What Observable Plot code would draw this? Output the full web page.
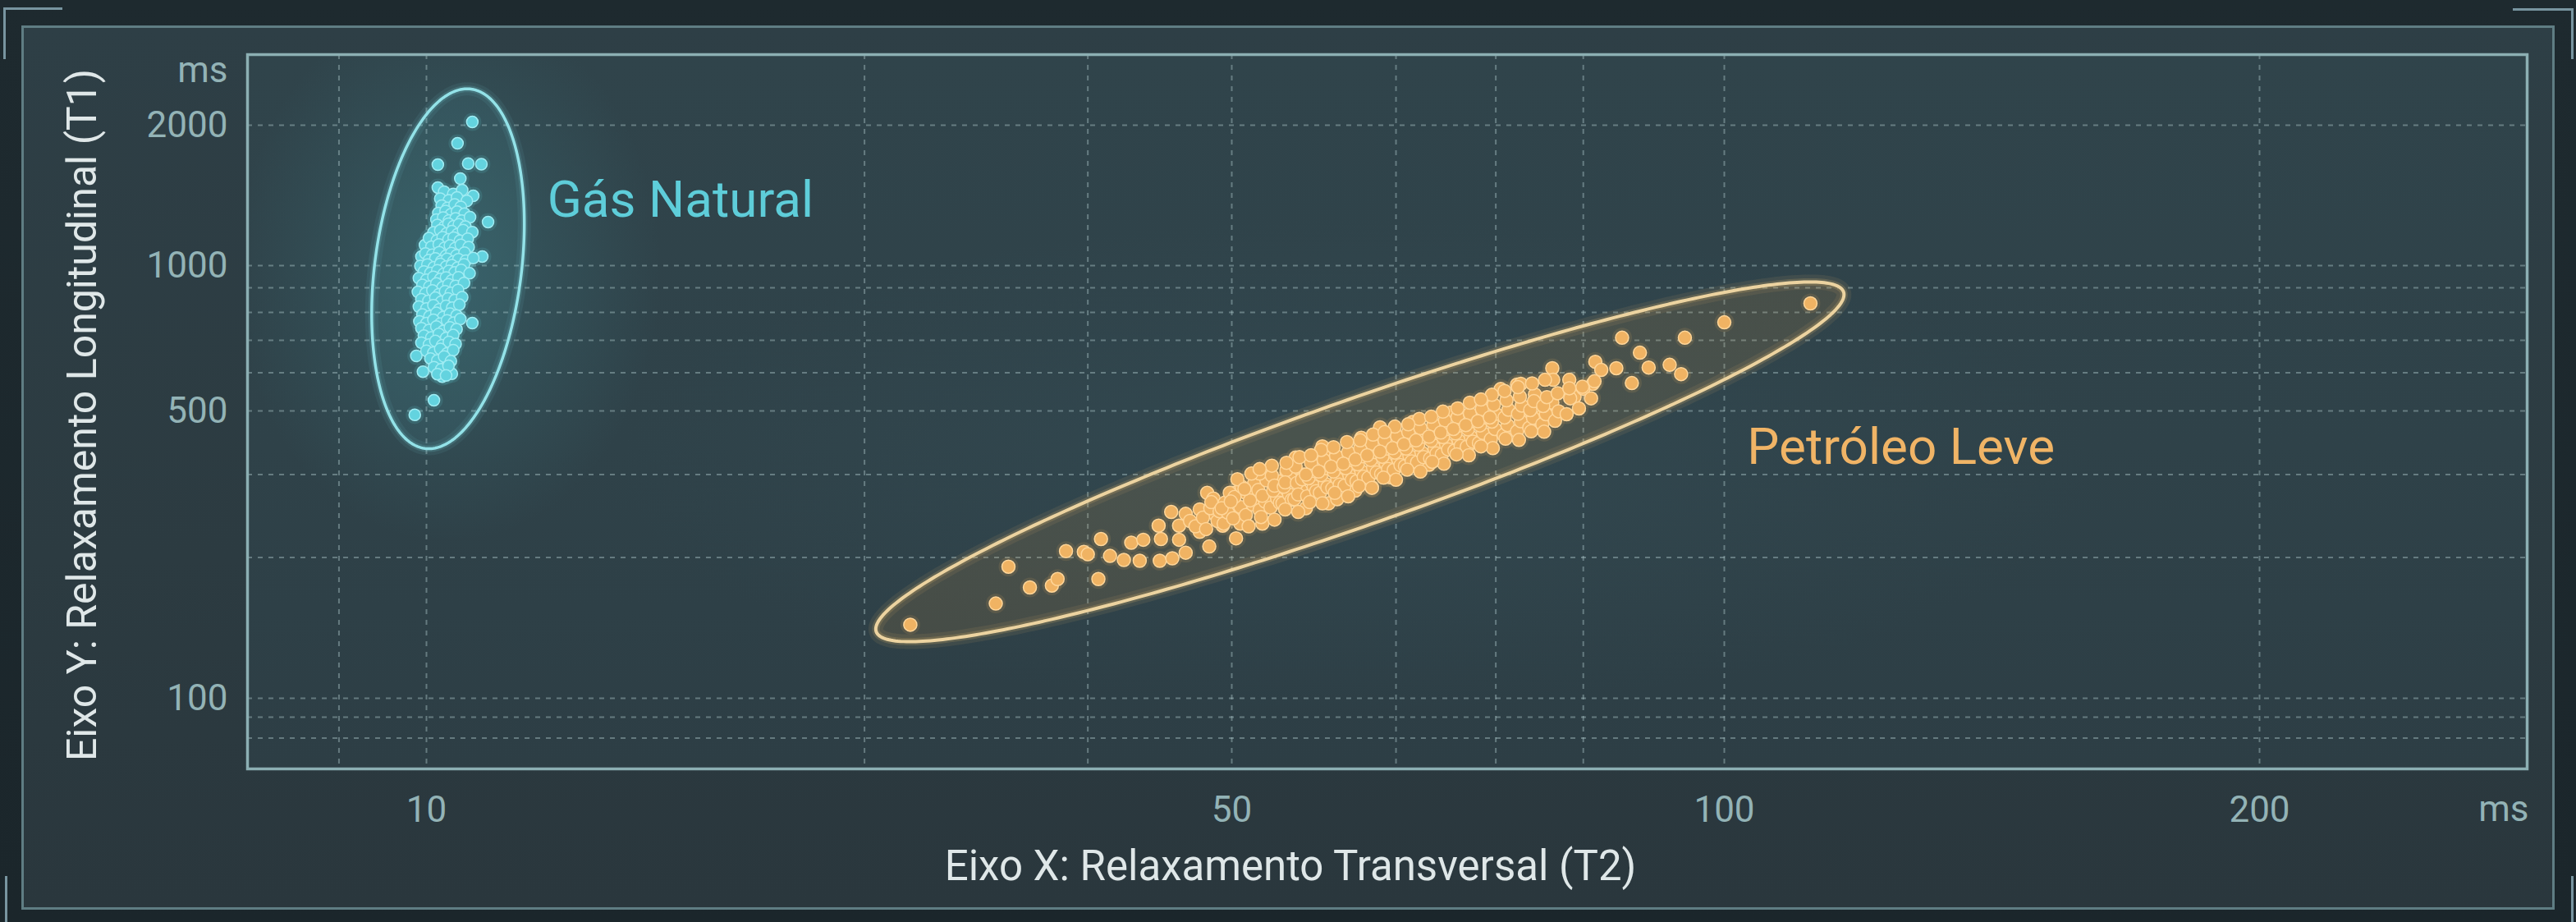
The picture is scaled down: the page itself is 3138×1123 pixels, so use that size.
<!DOCTYPE html>
<html>
<head>
<meta charset="utf-8">
<script src="https://cdn.jsdelivr.net/npm/d3@7"></script>
<script src="https://cdn.jsdelivr.net/npm/@observablehq/plot@0.6"></script>
<style>
  html, body { margin: 0; padding: 0; background: #1c272c; }
  #wrap { position: relative; width: 3138px; height: 1123px; overflow: hidden;
    background: linear-gradient(180deg, #1e2a2f 0%, #1b262b 100%); font-family: Roboto, sans-serif; }
  #panel { position: absolute; left: 26px; top: 31px; width: 3086px; height: 1077px; box-sizing: border-box;
    border: 3px solid #5f7d83;
    background: linear-gradient(180deg, #2e3f46 0%, #2c3b41 60%, #2a373d 100%); }
  #plotbg { position: absolute; left: 301px; top: 66px; width: 2777px; height: 870px;
    background:
      radial-gradient(ellipse 260px 330px at 245px 265px, rgba(70,150,160,0.28), rgba(70,150,160,0) 100%),
      radial-gradient(ellipse 900px 300px at 1350px 500px, rgba(60,90,100,0.25), rgba(60,90,100,0) 100%),
      linear-gradient(180deg, #30444b 0%, #2f4249 55%, #2d3e45 100%); }
  .br { position: absolute; background: #7895a0; }
  #chart { position: absolute; left: 0; top: 0; }
</style>
</head>
<body>
<div id="wrap">
  <div id="panel"></div>
  <div id="plotbg"></div>
  <div class="br" style="left:4px;top:9px;width:72px;height:3px"></div>
  <div class="br" style="left:4px;top:9px;width:3px;height:63px"></div>
  <div class="br" style="left:3061px;top:10px;width:74px;height:3px"></div>
  <div class="br" style="left:3132px;top:10px;width:3px;height:62px"></div>
  <div class="br" style="left:6px;top:1067px;width:3px;height:56px"></div>
  <div class="br" style="left:3132px;top:1067px;width:3px;height:56px"></div>
  <div id="chart"></div>
</div>
<script>
// ---- data ----
const xTicks = [10, 50, 100, 200];
const yTicks = [100, 500, 1000, 2000];
const xGrid = [8.4, 10, 24, 37.5, 50, 63, 72.5, 82, 100, 200];
const yGrid = [2000, 1000, 900, 800, 700, 600, 500, 350, 220, 100, 90, 80];
// axis breakpoints as drawn on the (non-uniform) reference axes
const xDomain = [7.0, 10, 50, 100, 200, 282.9];
const yDomain = [67.3, 100, 500, 1000, 2000, 2835];

// Gás Natural: [T2 ms, T1 ms]
const gasPoints = [
  [10.96,2032],[10.64,1829],[10.23,1646],[10.87,1655],[11.16,1650],[10.70,1537],[10.23,1470],[10.98,1411],
  [10.32,1372],[11.31,1240],[11.18,1046],[9.97,1107],[9.90,1046],[10.96,760],[9.80,650],[9.93,603],
  [10.07,655],[10.32,589],[10.52,597],[10.15,526],[9.77,489],
  [10.36,1440],[10.55,1425],[10.74,1452],
  [10.28,1392],[10.46,1380],[10.63,1400],[10.84,1376],
  [10.31,1345],[10.43,1330],[10.58,1352],[10.71,1336],
  [10.24,1296],[10.39,1310],[10.50,1288],[10.63,1305],[10.79,1292],
  [10.20,1255],[10.34,1268],[10.46,1250],[10.60,1262],[10.73,1248],[10.91,1270],
  [10.22,1222],[10.36,1210],[10.45,1230],[10.56,1215],[10.67,1226],[10.81,1212],
  [10.14,1178],[10.28,1190],[10.41,1172],[10.52,1185],[10.64,1168],[10.76,1192],[10.96,1180],
  [10.05,1145],[10.21,1132],[10.33,1150],[10.45,1138],[10.56,1148],[10.69,1130],[10.86,1142],
  [10.10,1098],[10.25,1110],[10.37,1092],[10.48,1104],[10.59,1090],[10.71,1108],[10.88,1096],
  [9.98,1062],[10.12,1055],[10.26,1068],[10.40,1050],[10.51,1064],[10.62,1052],[10.79,1066],
  [10.05,1028],[10.18,1036],[10.30,1022],[10.42,1034],[10.55,1020],[10.66,1032],[10.82,1025],[10.98,1038],
  [9.88,998],[10.02,1005],[10.15,992],[10.28,1008],[10.40,995],[10.52,1002],[10.64,990],[10.78,1006],
  [9.95,972],[10.08,965],[10.22,978],[10.35,962],[10.46,975],[10.58,968],[10.72,980],[10.90,964],
  [9.85,942],[10.00,935],[10.14,948],[10.28,938],[10.40,945],[10.52,932],[10.66,946],
  [9.92,912],[10.06,905],[10.20,918],[10.33,902],[10.45,915],[10.60,908],[10.78,920],
  [9.83,882],[9.98,876],[10.12,888],[10.25,872],[10.38,885],[10.50,878],[10.65,890],
  [9.90,852],[10.04,845],[10.18,858],[10.30,842],[10.44,855],[10.58,848],[10.74,860],
  [9.85,822],[10.00,815],[10.14,828],[10.26,812],[10.40,825],[10.53,818],[10.68,830],
  [9.92,792],[10.06,785],[10.20,798],[10.34,782],[10.48,795],[10.62,788],
  [9.86,766],[10.00,760],[10.14,772],[10.28,758],[10.42,770],[10.56,762],[10.70,775],
  [9.90,742],[10.05,735],[10.20,748],[10.34,732],[10.48,745],[10.62,738],
  [9.95,716],[10.10,710],[10.25,722],[10.40,708],[10.55,718],
  [9.90,692],[10.05,686],[10.18,698],[10.32,684],[10.46,695],[10.60,688],
  [10.00,666],[10.14,660],[10.28,672],[10.42,658],[10.55,668],
  [10.08,642],[10.22,636],[10.36,648],[10.50,634],
  [10.15,616],[10.30,610],[10.45,620],
  [10.22,596],[10.40,592]
];

// Petróleo Leve: [T2 ms, T1 ms]
const oilPoints = [
  [26.3,151],[31.2,170],[32.0,209],[33.4,186],[34.9,188],[35.3,195],[35.9,228],[37.2,227],[37.5,224],
  [38.3,195],[38.5,244],[39.2,222],[40.3,217],[40.9,239],[41.6,216],[41.9,243],[43.2,263],[43.3,216],
  [43.4,244],[44.3,284],[44.4,219],[45.0,263],[45.0,243],[45.6,281],[45.6,226],[46.9,288],[46.9,254],
  [47.8,234],[47.6,316],[48.2,306],[48.4,279],[49.1,263],[50.2,316],[50.3,245],[50.6,266],[51.9,341],
  [52.2,266],[54.0,354],[54.7,385],
  [46.0,270],[46.5,262],[47.2,275],[47.9,290],[48.6,270],[48.0,300],[48.8,285],[47.5,258],
  [56.8,410],[59.5,320],[60.9,326],[57.3,298],[61.6,456],[69.7,410],[71.3,422],[71.8,526],[73.0,555],
  [74.7,567],[75.8,478],[77.3,484],[78.5,484],[78.5,613],[81.0,535],[83.4,632],[83.1,569],[111.8,835],
  [100,763],[94.6,709],[86.6,709],[88.8,660],[89.9,615],[92.6,623],[94.1,596],[87.8,571],[85.9,613],
  [84.1,608],[82.0,556],[80.4,580],[78.6,580],[78.5,520],[76.6,541],[75.1,569],[75.5,473],
  [55.5,290],[58.0,305],[62.5,345],[66.0,370],[64.5,470],[60.0,430],[57.0,395],[68.0,495],
  [49.2,266],[49.6,283],[49.3,299],[49.8,316],[49.0,290],
  [50.1,274],[50.6,292],[50.2,309],[50.7,327],[49.9,301],[50.4,341],
  [51.0,279],[51.5,296],[51.1,314],[51.6,333],[51.3,303],[50.9,323],
  [52.0,287],[52.4,301],[51.9,321],[52.5,339],[52.2,311],[52.0,352],
  [52.8,291],[53.3,306],[53.0,320],[53.4,337],[52.9,348],[53.1,329],[53.5,299],
  [53.7,298],[54.2,313],[53.8,327],[54.3,343],[54.0,359],[53.9,335],[54.4,304],
  [54.6,305],[55.1,321],[54.8,334],[55.3,350],[54.7,366],[55.2,341],[54.9,313],
  [55.6,310],[56.1,328],[55.7,343],[56.2,357],[55.9,374],[55.5,350],[56.3,319],
  [56.6,316],[57.0,333],[56.7,349],[57.1,363],[56.9,380],[56.5,356],[57.2,326],
  [57.6,324],[58.0,342],[57.7,356],[58.1,372],[57.9,389],[57.5,366],[58.2,331],
  [58.6,329],[59.0,349],[58.7,363],[59.1,380],[58.9,397],[58.5,372],[59.2,340],
  [59.6,337],[60.0,357],[59.7,371],[60.1,388],[59.9,406],[59.5,381],[60.2,346],
  [60.6,344],[61.0,364],[60.8,380],[61.2,397],[60.9,416],[60.5,390],[61.3,354],
  [61.7,351],[62.1,373],[61.8,387],[62.2,405],[62.0,424],[61.6,398],[62.3,361],
  [62.8,359],[63.2,381],[62.9,396],[63.3,414],[63.1,434],[62.7,406],[63.4,369],
  [63.8,367],[64.2,389],[63.9,405],[64.3,424],[64.1,444],[63.7,415],[64.4,377],
  [64.9,375],[65.3,397],[65.0,414],[65.4,433],[65.2,454],[64.8,424],[65.5,386],
  [66.1,383],[66.5,406],[66.2,423],[66.6,442],[66.4,463],[66.0,433],[66.7,394],
  [67.2,392],[67.6,415],[67.3,432],[67.7,452],[67.5,474],[67.1,443],[67.8,403],
  [68.4,400],[68.8,424],[68.5,441],[68.9,461],[68.7,483],[68.3,452],[69.0,411],
  [69.6,409],[70.0,433],[69.7,451],[70.1,472],[69.9,493],[69.5,462],[70.2,421],
  [70.8,418],[71.2,442],[70.9,461],[71.3,482],[71.1,504],[70.7,472],
  [72.0,427],[72.4,452],[72.1,471],[72.5,492],[72.3,515],[71.9,482],
  [73.3,437],[73.7,462],[73.4,482],[73.8,503],[73.6,526],
  [74.7,446],[75.1,472],[74.8,492],[75.2,513],[75.0,535],
  [76.0,455],[76.4,481],[76.1,502],[76.5,524],
  [77.4,464],[77.8,491],[77.5,512],[77.9,534],
  [78.8,473],[79.2,499],[79.1,544],
  [80.1,491],[80.5,531],[80.4,557],
  [81.5,506],[81.9,561],
  [82.9,531],[83.3,576],
  [51.2,262],[51.4,352],[53.1,272],[52.9,368],[54.9,284],[55.0,386],[56.8,298],[56.7,402],
  [58.9,310],[58.8,420],[60.9,325],[61.0,438],[63.0,340],[62.9,458],[65.2,356],[65.1,478],
  [67.4,372],[67.3,498],[69.8,390],[69.9,520],[72.2,406],[72.1,540],[74.9,425],[74.8,560],
  [77.6,445],[77.7,580],
  [52.1,276],[52.0,361],[53.9,288],[54.0,374],[55.8,300],[55.9,390],[57.8,316],[57.7,408],
  [59.8,328],[59.9,424],[61.9,344],[62.0,444],[64.0,360],[64.1,464],[66.3,376],[66.2,484],
  [68.6,392],[68.7,506],[71.0,410],[71.0,528],[73.5,428],[73.4,550],[76.2,446],[76.3,570]
];

const clusterLabels = [
  { name: "Gás Natural", group: "gas", t2: 12.73, t1: 1377 },
  { name: "Petróleo Leve", group: "oil", t2: 103.0, t1: 408 }
];

// cluster envelopes: centre, end of the long axis, and width ratio
const envelopes = [
  { group: "gas", t2: 10.44, t1: 985, tipT2: 10.93, tipT1: 2391, ratio: 0.405 },
  { group: "oil", t2: 59.88, t1: 376, tipT2: 116.7, tipT1: 882, ratio: 0.122 }
];

// ---- layout ----
const W = 3138, H = 1123;
const M = { left: 301, right: 60, top: 66, bottom: 187 };
const xRange = [301, 519, 1500, 2100, 2752, 3078];
const yRange = [936, 850, 500, 323, 152, 66];

const xs = d3.scaleLog().domain(xDomain).range(xRange);
const ys = d3.scaleLog().domain(yDomain).range(yRange);

function geom(e) {
  const cx = xs(e.t2), cy = ys(e.t1);
  const tx = xs(e.tipT2) - cx, ty = ys(e.tipT1) - cy;
  const a = Math.hypot(tx, ty), ux = tx / a, uy = ty / a, b = a * e.ratio;
  return { cx, cy, a, b, ux, uy };
}
// closed outline of an envelope
function outline(e) {
  const { cx, cy, a, b, ux, uy } = geom(e);
  const pts = [];
  const n = 360;
  for (let i = 0; i <= n; i++) {
    const t = (i / n) * 2 * Math.PI;
    const px = cx + a * Math.cos(t) * ux - b * Math.sin(t) * uy;
    const py = cy + a * Math.cos(t) * uy + b * Math.sin(t) * ux;
    pts.push({ T2: xs.invert(px), T1: ys.invert(py) });
  }
  return pts;
}
// lower/upper bounds of the envelope along x, for a filled area
function interior(e) {
  const { cx, cy, a, b, ux, uy } = geom(e);
  const A = uy * uy / (a * a) + ux * ux / (b * b);
  const half = Math.sqrt(a * a * ux * ux + b * b * uy * uy);
  const rows = [];
  const n = 300;
  for (let i = 0; i <= n; i++) {
    const dx = -half + (2 * half * i) / n;
    const B = 2 * dx * (ux * uy / (a * a) - ux * uy / (b * b));
    const C = dx * dx * (ux * ux / (a * a) + uy * uy / (b * b)) - 1;
    const disc = Math.max(0, B * B - 4 * A * C);
    const d1 = (-B - Math.sqrt(disc)) / (2 * A), d2 = (-B + Math.sqrt(disc)) / (2 * A);
    rows.push({ T2: xs.invert(cx + dx), lo: ys.invert(cy + d2), hi: ys.invert(cy + d1) });
  }
  return rows;
}
const gasE = envelopes.find(d => d.group === "gas");
const oilE = envelopes.find(d => d.group === "oil");
const gasEnv = outline(gasE), oilEnv = outline(oilE);
const gasIn = interior(gasE), oilIn = interior(oilE);

const tickColor = "#93b3b6";
const titleColor = "#dfe7e8";

const chart = Plot.plot({
  width: W, height: H,
  marginLeft: M.left, marginRight: M.right, marginTop: M.top, marginBottom: M.bottom,
  style: { background: "transparent", fontFamily: "Roboto, sans-serif", overflow: "visible" },
  x: { type: "log", domain: xDomain, range: xRange },
  y: { type: "log", domain: yDomain, range: yRange },
  marks: [
    Plot.ruleX(xGrid, { x: d => d, stroke: "#b3cdd0", strokeOpacity: 0.42, strokeWidth: 2, strokeDasharray: "6,7" }),
    Plot.ruleY(yGrid, { y: d => d, stroke: "#b3cdd0", strokeOpacity: 0.42, strokeWidth: 2, strokeDasharray: "6,7" }),
    Plot.frame({ stroke: "#8cafb3", strokeWidth: 3.5 }),
    Plot.areaY(gasIn, { x: "T2", y1: "lo", y2: "hi", fill: "#5fd4e0", fillOpacity: 0.07 }),
    Plot.areaY(oilIn, { x: "T2", y1: "lo", y2: "hi", fill: "#d9994a", fillOpacity: 0.14 }),
    Plot.line(gasEnv, { x: "T2", y: "T1", stroke: "#7fdde6", strokeWidth: 16, strokeOpacity: 0.08 }),
    Plot.line(oilEnv, { x: "T2", y: "T1", stroke: "#f0c070", strokeWidth: 18, strokeOpacity: 0.09 }),
    Plot.line(gasEnv, { x: "T2", y: "T1", stroke: "#7fdde6", strokeWidth: 8, strokeOpacity: 0.16 }),
    Plot.line(oilEnv, { x: "T2", y: "T1", stroke: "#f0c070", strokeWidth: 9, strokeOpacity: 0.18 }),
    Plot.line(gasEnv, { x: "T2", y: "T1", stroke: "#93e2e8", strokeWidth: 3.5 }),
    Plot.line(oilEnv, { x: "T2", y: "T1", stroke: "#ecd3a0", strokeWidth: 4 }),
    Plot.dot(gasPoints, { x: d => d[0], y: d => d[1], r: 11, fill: "#63d3df", fillOpacity: 0.14 }),
    Plot.dot(oilPoints, { x: d => d[0], y: d => d[1], r: 12, fill: "#f0b363", fillOpacity: 0.12 }),
    Plot.dot(gasPoints, { x: d => d[0], y: d => d[1], r: 7, fill: "#63d3df", stroke: "#9fecf3", strokeWidth: 1.5 }),
    Plot.dot(oilPoints, { x: d => d[0], y: d => d[1], r: 8, fill: "#f0b363", stroke: "#ffd699", strokeWidth: 1.5 }),
    Plot.text(clusterLabels.filter(d => d.group === "gas"), { x: "t2", y: "t1", text: "name", textAnchor: "start", lineAnchor: "middle", fontSize: 62, fill: "#5ecdd9" }),
    Plot.text(clusterLabels.filter(d => d.group === "oil"), { x: "t2", y: "t1", text: "name", textAnchor: "start", lineAnchor: "middle", fontSize: 62, fill: "#f0b466" }),
    Plot.axisX({ ticks: xTicks, tickSize: 0, tickPadding: 33, fontSize: 44, color: tickColor, label: null, tickFormat: d => `${d}` }),
    Plot.axisY({ ticks: yTicks, tickSize: 0, tickPadding: 24, fontSize: 44, color: tickColor, label: null, tickFormat: d => `${d}` }),
    Plot.text(["ms"], { text: d => d, frameAnchor: "top-left", dx: -24, dy: 19, textAnchor: "end", lineAnchor: "middle", fontSize: 44, fill: tickColor }),
    Plot.text(["ms"], { text: d => d, frameAnchor: "bottom-right", dx: 2, dy: 49, textAnchor: "end", lineAnchor: "middle", fontSize: 44, fill: tickColor }),
    Plot.text(["Eixo X: Relaxamento Transversal (T2)"], { text: d => d, frameAnchor: "bottom", dx: -118, dy: 119, textAnchor: "middle", lineAnchor: "middle", fontSize: 51, fill: titleColor }),
    Plot.text(["Eixo Y: Relaxamento Longitudinal (T1)"], { text: d => d, frameAnchor: "left", dx: -201, dy: 4, rotate: -90, textAnchor: "middle", lineAnchor: "middle", fontSize: 50, fill: titleColor })
  ]
});

document.getElementById("chart").appendChild(chart);
</script>
</body>
</html>
